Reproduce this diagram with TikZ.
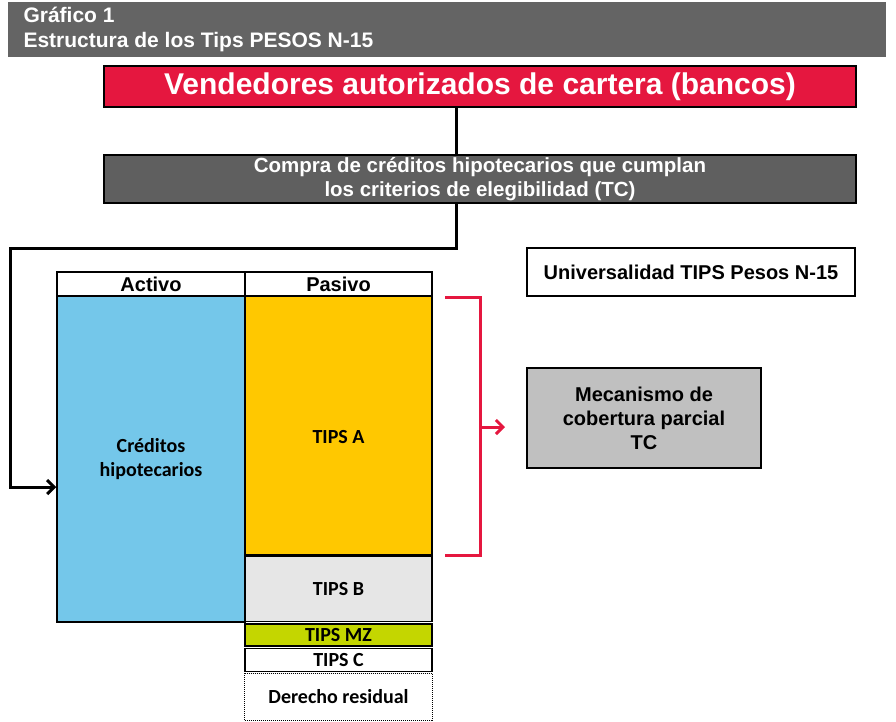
\documentclass[tikz,border=0pt]{standalone}
\usepackage{fontspec}
\setmainfont{Liberation Sans}
\newfontfamily\calibrifont{Carlito}
\usetikzlibrary{positioning,arrows.meta}
\definecolor{headgray}{HTML}{646464}
\definecolor{bancored}{HTML}{E5173F}
\definecolor{compragray}{HTML}{5F5F5F}
\definecolor{mecgray}{HTML}{C0C0C0}
\definecolor{credblue}{HTML}{74C7EA}
\definecolor{tipsorange}{HTML}{FFC800}
\definecolor{tipsgray}{HTML}{E6E6E6}
\definecolor{tipsgreen}{HTML}{C4D600}
\tikzset{
  box/.style={draw=black, line width=2pt, inner sep=0pt, align=center,
    font=\fontsize{20}{24}\selectfont\bfseries},
  colhead/.style={draw=black, line width=1.5pt, inner sep=0pt, fill=white,
    minimum height=24, font=\fontsize{20}{24}\selectfont\bfseries},
  cell/.style={draw=black, line width=1.5pt, inner sep=0pt, minimum width=187,
    align=center, font=\calibrifont\fontsize{20}{24}\selectfont\bfseries},
  conn/.style={line width=3pt, -{Straight Barb[length=7pt,width=14pt]}},
  bracket/.style={draw=bancored, line width=3pt}
}
\begin{document}
\begin{tikzpicture}[x=1pt,y=-1pt]
  \useasboundingbox (0,0) rectangle (896,721);
  % cabecera
  \fill[headgray] (8,2) rectangle (886,57);
  \node (graf) [anchor=west, text=white, font=\fontsize{21}{24}\selectfont\bfseries] at (20,15) {Gráfico 1};
  \node (titulo) [anchor=west, text=white, font=\fontsize{21}{24}\selectfont\bfseries] at (20,42) {Estructura de los Tips PESOS N-15};

  \node (vend) [box, fill=bancored, text=white, minimum width=752, minimum height=41,
    font=\fontsize{30}{34}\selectfont\bfseries] at (480,86.5) {Vendedores autorizados de cartera (bancos)};
  \node (compra) [box, fill=compragray, text=white, minimum width=752, minimum height=48,
    font=\fontsize{20.5}{24}\selectfont\bfseries] at (480,179)
    {Compra de créditos hipotecarios que cumplan\\los criterios de elegibilidad (TC)};
  \node (univ) [box, minimum width=328, minimum height=48] at (691,272) {Universalidad TIPS Pesos N-15};
  \node (mec) [box, fill=mecgray, minimum width=234, minimum height=100] at (644,418)
    {Mecanismo de\\cobertura parcial\\TC};

  % balance
  \node (activo) [colhead, minimum width=188] at (151,284) {Activo};
  \node (pasivo) [colhead, minimum width=187] at (338.5,284) {Pasivo};
  \node (creditos) [cell, fill=credblue, minimum width=188, minimum height=326] at (151,459) {Créditos\\hipotecarios};
  \node (tipsA) [cell, fill=tipsorange, minimum height=259, text height=36pt] at (338.5,425.5) {TIPS A};
  \node (tipsB) [cell, fill=tipsgray, minimum height=65, below=0pt of tipsA] {TIPS B};
  \node (tipsMZ) [cell, fill=tipsgreen, minimum height=22, below=1pt of tipsB] {TIPS MZ};
  \node (tipsC) [cell, fill=white, minimum height=23, below=1pt of tipsMZ] {TIPS C};
  \node (resid) [cell, draw=none, minimum height=46, below=1pt of tipsC] {Derecho residual};
  \draw[line width=1pt, densely dotted] (resid.north west) rectangle (resid.south east);

  % conectores
  \draw[line width=3pt] ([xshift=-24]vend.south) -- ([xshift=-24]compra.north);
  \coordinate (bend) at (10,248);
  \draw[conn] ([xshift=-24]compra.south) |- (bend) |- ([yshift=-28pt]creditos.west);

  \coordinate (brtop) at (445,297);
  \coordinate (brbot) at (445,555);
  \coordinate (brmid) at (480,427);
  \coordinate (brtip) at (505,427);
  \draw[bracket] (brtop) -- ++(35,0) |- (brbot);
  \draw[bracket, -{Straight Barb[length=7pt,width=14pt]}] (brmid) -- (brtip);
\end{tikzpicture}
\end{document}
